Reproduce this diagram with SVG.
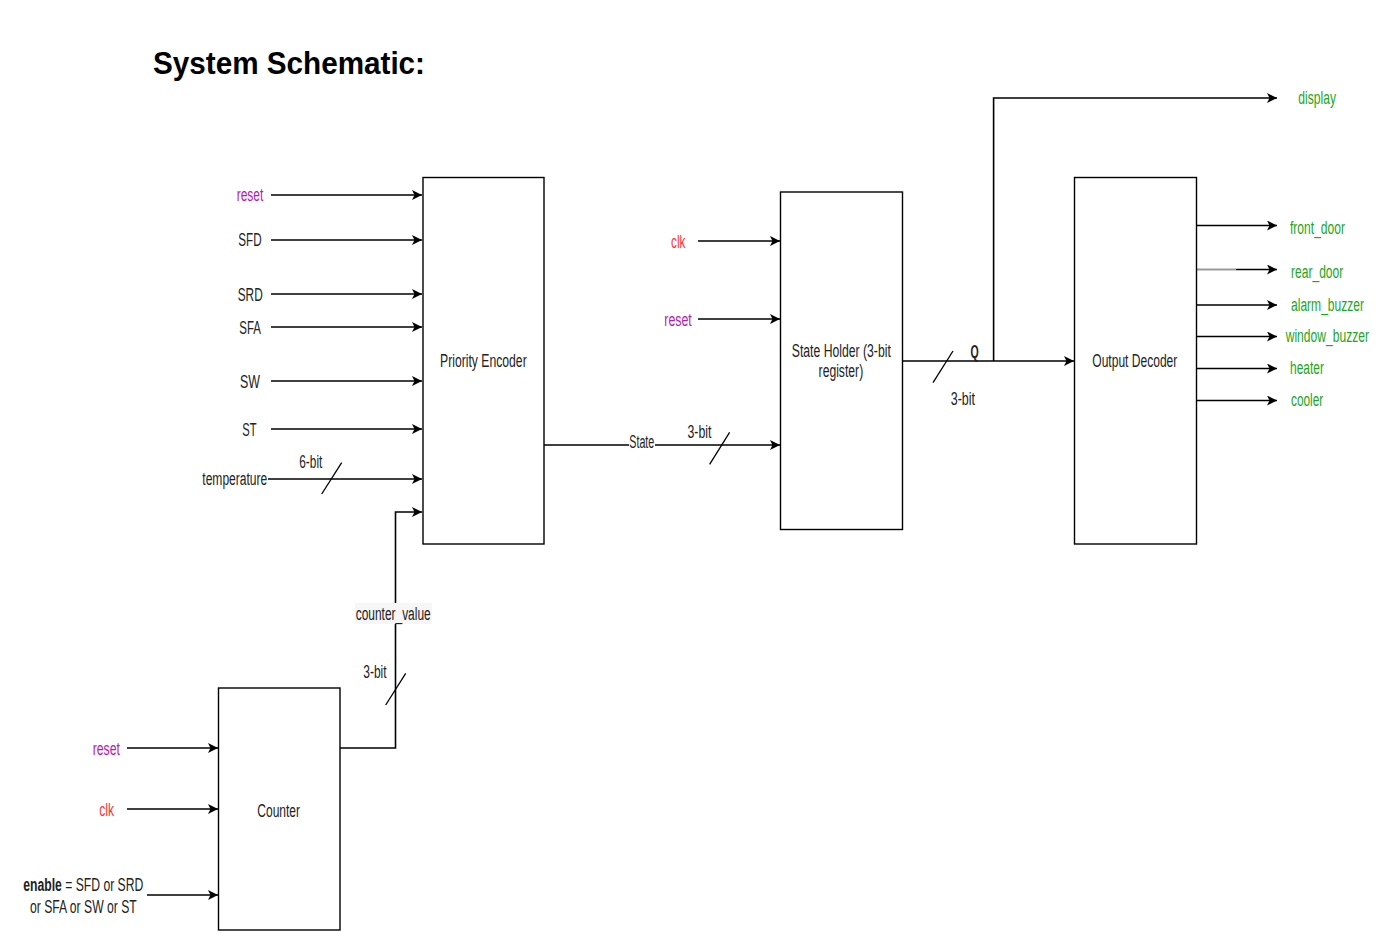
<svg xmlns="http://www.w3.org/2000/svg" width="1382" height="946" viewBox="0 0 1382 946">
<defs>
<marker id="arr" markerUnits="userSpaceOnUse" markerWidth="10" markerHeight="10" viewBox="0 0 10 10" refX="10" refY="5" orient="auto">
<path d="M0,0 L10,5 L0,10 L2.5,5 Z" fill="#000"/>
</marker>
<style>
.box{fill:#fff;stroke:#000;stroke-width:1.4}
.w{fill:none;stroke:#000;stroke-width:1.5}
.a{fill:none;stroke:#000;stroke-width:1.6;marker-end:url(#arr)}
.sl{fill:none;stroke:#000;stroke-width:1.3}
text{font-family:"Liberation Sans",Arial,sans-serif;font-size:18px;fill:#222}
.pu{fill:#b01cb0}
.rd{fill:#ff3333}
.gr{fill:#22a522}
</style>
</defs>
<rect width="1382" height="946" fill="#fff"/>
<text x="153" y="73.5" style="font-size:31px;font-weight:bold;fill:#000" textLength="272" lengthAdjust="spacingAndGlyphs">System Schematic:</text>

<g id="connectors">
<path class="a" d="M271,195 H422"/>
<path class="a" d="M271,240 H422"/>
<path class="a" d="M271,294 H422"/>
<path class="a" d="M271,327 H422"/>
<path class="a" d="M271,381 H422"/>
<path class="a" d="M271,429 H422"/>
<path class="a" d="M268,479 H422"/>
<path class="sl" d="M321.7,494 L341.7,462.7"/>
<path class="a" d="M340,748 H395.5 V512 H422"/>
<path class="sl" d="M385.7,705 L405.7,673.3"/>
<path class="a" d="M544,445 H780"/>
<path class="sl" d="M709.6,464.3 L729.6,432.3"/>
<path class="a" d="M698,241 H780"/>
<path class="a" d="M698,319 H780"/>
<path class="a" d="M902,361 H1074"/>
<path class="sl" d="M933,382.7 L953,351"/>
<path class="a" d="M993.6,361 V98 H1277"/>
<path class="a" d="M1196,225.5 H1277"/>
<path d="M1196,269.5 H1236" style="fill:none;stroke:#999;stroke-width:2"/>
<path class="a" d="M1236,269.5 H1277"/>
<path class="a" d="M1196,305 H1277"/>
<path class="a" d="M1196,336.5 H1277"/>
<path class="a" d="M1196,368.5 H1277"/>
<path class="a" d="M1196,400.5 H1277"/>
<path class="a" d="M127,748 H218"/>
<path class="a" d="M127,809 H218"/>
<path class="a" d="M147,895 H218"/>
</g>

<g id="priority-encoder">
<rect class="box" x="423" y="177.5" width="121" height="366.5"/>
<text x="440" y="366.5" textLength="86.7" lengthAdjust="spacingAndGlyphs">Priority Encoder</text>
</g>
<g id="state-holder">
<rect class="box" x="780.5" y="192" width="122" height="337.5"/>
<text x="791.8" y="356.5" textLength="99" lengthAdjust="spacingAndGlyphs">State Holder (3-bit</text>
<text x="818.6" y="377" textLength="44.6" lengthAdjust="spacingAndGlyphs">register)</text>
</g>
<g id="output-decoder">
<rect class="box" x="1074.5" y="177.5" width="122" height="366.5"/>
<text x="1092.3" y="367.3" textLength="85" lengthAdjust="spacingAndGlyphs">Output Decoder</text>
</g>
<g id="counter">
<rect class="box" x="218.5" y="688" width="121.5" height="242"/>
<text x="257.3" y="816.7" textLength="42.7" lengthAdjust="spacingAndGlyphs">Counter</text>
</g>

<g id="labels">
<text class="pu" x="236.7" y="201" textLength="26.7" lengthAdjust="spacingAndGlyphs">reset</text>
<text x="238.3" y="246" textLength="23.3" lengthAdjust="spacingAndGlyphs">SFD</text>
<text x="237.7" y="300.5" textLength="25" lengthAdjust="spacingAndGlyphs">SRD</text>
<text x="239.3" y="334" textLength="21.7" lengthAdjust="spacingAndGlyphs">SFA</text>
<text x="240" y="388" textLength="20" lengthAdjust="spacingAndGlyphs">SW</text>
<text x="242.3" y="436" textLength="14.3" lengthAdjust="spacingAndGlyphs">ST</text>
<text x="202.3" y="485" textLength="65" lengthAdjust="spacingAndGlyphs">temperature</text>
<text x="299.3" y="467.5" textLength="23" lengthAdjust="spacingAndGlyphs">6-bit</text>
<text class="rd" x="671" y="247.5" textLength="14.4" lengthAdjust="spacingAndGlyphs">clk</text>
<text class="pu" x="664.3" y="326" textLength="27.5" lengthAdjust="spacingAndGlyphs">reset</text>
<rect x="629" y="436" width="26" height="14" fill="#fff"/>
<text x="629.3" y="448.3" textLength="25" lengthAdjust="spacingAndGlyphs">State</text>
<text x="687.5" y="438.3" textLength="24" lengthAdjust="spacingAndGlyphs">3-bit</text>
<text x="970.4" y="358.3" style="font-weight:bold" textLength="8.2" lengthAdjust="spacingAndGlyphs">Q</text>
<text x="950.7" y="405" textLength="24.3" lengthAdjust="spacingAndGlyphs">3-bit</text>
<text class="gr" x="1298.3" y="104" textLength="37.7" lengthAdjust="spacingAndGlyphs">display</text>
<text class="gr" x="1290" y="234" textLength="55" lengthAdjust="spacingAndGlyphs">front_door</text>
<text class="gr" x="1291" y="278.3" textLength="52.3" lengthAdjust="spacingAndGlyphs">rear_door</text>
<text class="gr" x="1291" y="310.7" textLength="73" lengthAdjust="spacingAndGlyphs">alarm_buzzer</text>
<text class="gr" x="1285.7" y="342" textLength="83.3" lengthAdjust="spacingAndGlyphs">window_buzzer</text>
<text class="gr" x="1290" y="374" textLength="34" lengthAdjust="spacingAndGlyphs">heater</text>
<text class="gr" x="1291" y="406" textLength="32.3" lengthAdjust="spacingAndGlyphs">cooler</text>
<rect x="355" y="603" width="77" height="21" fill="#f6f6f6"/>
<text x="355.7" y="620" textLength="75" lengthAdjust="spacingAndGlyphs">counter_value</text>
<text x="363.3" y="678.3" textLength="23.3" lengthAdjust="spacingAndGlyphs">3-bit</text>
<text class="pu" x="92.7" y="755" textLength="27.3" lengthAdjust="spacingAndGlyphs">reset</text>
<text class="rd" x="99.3" y="815.7" textLength="14.7" lengthAdjust="spacingAndGlyphs">clk</text>
<text x="23.3" y="891" textLength="120" lengthAdjust="spacingAndGlyphs"><tspan style="font-weight:bold">enable</tspan> = SFD or SRD</text>
<text x="30" y="912.7" textLength="106.7" lengthAdjust="spacingAndGlyphs">or SFA or SW or ST</text>
</g>
</svg>
